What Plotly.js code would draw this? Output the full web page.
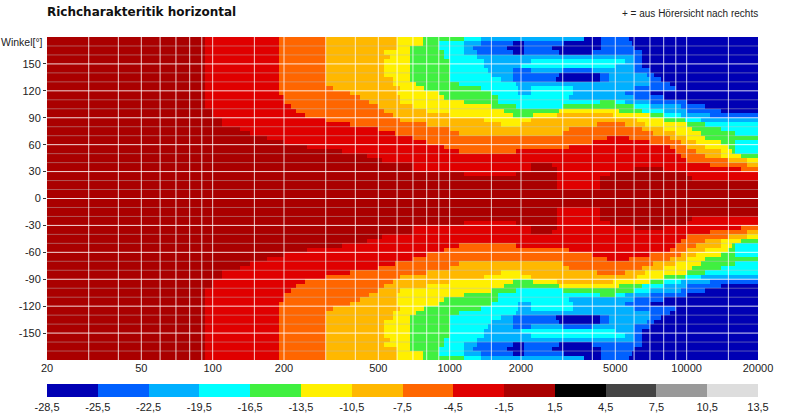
<!DOCTYPE html>
<html><head><meta charset="utf-8">
<script src="https://cdn.plot.ly/plotly-3.0.1.min.js"></script>
<style>html,body{margin:0;padding:0;background:#fff}</style>
</head><body><div id="chart" style="width:800px;height:418px"></div>
<script>
// level of each band letter in dB (band centre)
const bandLevels = {a:-27,b:-24,c:-21,d:-18,e:-15,f:-12,g:-9,h:-6,i:-3,j:0};
// one row per 5 degrees, from +180 down to -180: band letter + frequency (Hz) at which it ends
const rows = [
"j93 i190 h300 g600 f770 e1150 d1350 c3700 a4350 b5700 a20000",
"j93 i190 h300 g600 f770 e900 d1150 c1350 b1850 a2050 b3050 a4350 b5900 a20000",
"j93 i190 h300 g600 f680 e900 d1150 c1250 b1750 a2050 b2700 a4350 b6000 a20000",
"j93 i190 h300 g530 f680 e950 d1150 c1300 b1850 a2050 b2900 a4000 b6500 a20000",
"j93 i190 h300 g560 f680 e950 d1300 c6000 b6500 a20000",
"j93 i190 h300 g530 f680 e1000 d1400 c2200 d5500 c6000 b6500 a20000",
"j93 i190 h300 g530 f680 e1000 d1400 c2000 d5000 c6000 b6500 a20000",
"j93 i190 h300 g530 f680 e1000 d1450 c1850 b2200 c3000 b4000 c6000 b7000 a20000",
"j93 i190 h300 g530 f680 e1000 d1500 c1850 b2900 a4300 b4700 c6800 b7300 a20000",
"j93 i190 h300 g575 f680 e1000 d1650 c1850 b2800 a4300 b4700 c7000 b7800 a20000",
"j93 i190 h300 g575 f720 e1100 d1900 c7000 b8500 a20000",
"j93 i190 h322 g620 f780 e1350 d1950 c2200 d3300 c6000 b9000 a20000",
"j93 i190 h380 g600 f900 e1500 d1950 c2200 d3300 c5500 b7000 a20000",
"j93 i200 h420 g620 f950 e1600 d3200 c6000 b8000 a20000",
"j93 i200 h455 g620 f1150 e1600 d4300 e5000 d5500 c7000 b10000 a20000",
"j93 i214 h500 g700 f1500 e1900 d3000 e6000 d7000 c9500 b12000 a20000",
"j100 i225 h530 g800 f1700 e2900 f5200 e6500 d8000 c10000 b14000 a20000",
"j100 i245 h575 g1000 f1850 e2250 f2850 g4900 f7000 e8000 d9500 c12500 b20000",
"j110 i300 h620 g1400 f2200 g6200 f8000 e9800 d11500 c20000",
"j110 i380 h800 g1650 f2000 g4200 h5500 g6700 f10000 e12000 d20000",
"j130 i500 h1000 g3200 h6500 g8000 f10500 e14000 d20000",
"j144 i590 h1100 g3000 h7200 g9000 f11500 e16000 d20000",
"j170 i700 h4600 i5700 h8500 g10000 f12000 e20000",
"j200 i800 h4000 i7000 h9500 g11000 f14000 e16000 d20000",
"j250 i950 h3200 i8500 h10000 g12000 f15000 e16000 d20000",
"j350 i1100 h1900 i9000 h11000 g14000 f15500 e16000 d20000",
"j450 i9500 h12000 g14000 f17000 e20000",
"j520 i10000 h15000 g18000 f20000",
"j700 i2200 j2700 i12500 h18000 g20000",
"j700 i2200 j2850 i6000 j8000 i17000 h20000",
"j1150 i1900 j2850 i4750 j10000 i20000",
"j2850 i4300 j10500 i20000",
"j2850 i4300 j20000",
"j2850 i4300 j20000",
"j20000",
"j20000",
"j20000",
"j20000",
"j2850 i4300 j20000",
"j2850 i4300 j20000",
"j2850 i4300 j10500 i20000",
"j1150 i1900 j2850 i4750 j10000 i20000",
"j700 i2200 j2850 i6000 j8000 i17000 h20000",
"j700 i2200 j2700 i12500 h18000 g20000",
"j520 i10000 h15000 g18000 f20000",
"j450 i9500 h12000 g14000 f17000 e20000",
"j350 i1100 h1900 i9000 h11000 g14000 f15500 e16000 d20000",
"j250 i950 h3200 i8500 h10000 g12000 f15000 e16000 d20000",
"j200 i800 h4000 i7000 h9500 g11000 f14000 e16000 d20000",
"j170 i700 h4600 i5700 h8500 g10000 f12000 e20000",
"j144 i590 h1100 g3000 h7200 g9000 f11500 e16000 d20000",
"j130 i500 h1000 g3200 h6500 g8000 f10500 e14000 d20000",
"j110 i380 h800 g1650 f2000 g4200 h5500 g6700 f10000 e12000 d20000",
"j110 i300 h620 g1400 f2200 g6200 f8000 e9800 d11500 c20000",
"j100 i245 h575 g1000 f1850 e2250 f2850 g4900 f7000 e8000 d9500 c12500 b20000",
"j100 i225 h530 g800 f1700 e2900 f5200 e6500 d8000 c10000 b14000 a20000",
"j93 i214 h500 g620 f1500 e1900 d3000 e6000 d7000 c9500 b12000 a20000",
"j93 i200 h455 g600 f1150 e1600 d4300 e5000 d5500 c7000 b10000 a20000",
"j93 i200 h420 g600 f950 e1600 d3200 c6000 b8000 a20000",
"j93 i190 h380 g600 f900 e1500 d1950 c2200 d3300 c5500 b7000 a20000",
"j93 i190 h322 g620 f780 e1350 d1950 c2200 d3300 c6000 b9000 a20000",
"j93 i190 h300 g575 f720 e1100 d1900 c7000 b8500 a20000",
"j93 i190 h300 g575 f680 e1000 d1650 c1850 b2800 a4300 b4700 c7000 b7800 a20000",
"j93 i190 h300 g530 f680 e1000 d1500 c1850 b2900 a4300 b4700 c6800 b7300 a20000",
"j93 i190 h300 g530 f680 e1000 d1450 c1850 b2200 c3000 b4000 c6000 b7000 a20000",
"j93 i190 h300 g530 f680 e1000 d1400 c2000 d5000 c6000 b6500 a20000",
"j93 i190 h300 g530 f680 e1000 d1400 c2200 d5500 c6000 b6500 a20000",
"j93 i190 h300 g560 f680 e950 d1300 c6000 b6500 a20000",
"j93 i190 h300 g530 f680 e950 d1150 c1300 b1850 a2050 b2900 a4000 b6500 a20000",
"j93 i190 h300 g600 f680 e900 d1150 c1250 b1750 a2050 b2700 a4350 b6000 a20000",
"j93 i190 h300 g600 f770 e900 d1150 c1350 b1850 a2050 b3050 a4350 b5900 a20000",
"j93 i190 h300 g600 f770 e1150 d1350 c3700 a4350 b5700 a20000"
];
const angleEdges = [180,175,170,165,160,155,150,145,140,135,130,125,120,115,110,105,100,95,90,85,80,75,70,65,60,55,50,45,40,35,30,25,20,15,10,5,0,-5,-10,-15,-20,-25,-30,-35,-40,-45,-50,-55,-60,-65,-70,-75,-80,-85,-90,-95,-100,-105,-110,-115,-120,-125,-130,-135,-140,-145,-150,-155,-160,-165,-170,-175,-180];
const bandColors = ["#0000b4","#0060ff","#00b0ff","#00ffff","#40f040","#fff000","#ffb800","#ff6600","#e00000","#aa0000","#000000","#444444","#999999","#dddddd"];
const colorTicks = [-28.5,-25.5,-22.5,-19.5,-16.5,-13.5,-10.5,-7.5,-4.5,-1.5,1.5,4.5,7.5,10.5,13.5];
const colorTickText = ["-28,5","-25,5","-22,5","-19,5","-16,5","-13,5","-10,5","-7,5","-4,5","-1,5","1,5","4,5","7,5","10,5","13,5"];
const freqTicks = [20,50,100,200,500,1000,2000,5000,10000,20000];
const freqGrid = [30,40,50,60,70,80,90,100,150,200,300,400,500,600,700,800,900,1000,1500,2000,3000,4000,5000,6000,7000,8000,9000,10000,15000];
const angleTicks = [150,120,90,60,30,0,-30,-60,-90,-120,-150];
const angleMinor = [170,160,140,130,110,100,80,70,50,40,20,10,-10,-20,-40,-50,-70,-80,-100,-110,-130,-140,-160,-170];

const parsed = rows.map(r => r.split(" ").map(t => [t[0], +t.slice(1)]));
const edgeSet = new Set([20]);
parsed.forEach(r => r.forEach(t => edgeSet.add(t[1])));
const xEdges = [...edgeSet].sort((a,b)=>a-b);
const z = parsed.map(r => xEdges.slice(1).map(end => {
  for (const t of r) if (end <= t[1]) return bandLevels[t[0]];
  return null;
}));

const stops = [];
bandColors.forEach((c,i)=>{stops.push([i/14,c]);stops.push([(i+1)/14,c]);});

const xLo = 20, xHi = 20000;
function hLines(vals,color){
  const x=[],y=[];
  vals.forEach(v=>{x.push(xLo,xHi,null);y.push(v,v,null);});
  return {type:"scatter",mode:"lines",x,y,line:{color,width:1},hoverinfo:"skip",showlegend:false};
}
function vLines(vals,color){
  const x=[],y=[];
  vals.forEach(v=>{x.push(v,v,null);y.push(-180,180,null);});
  return {type:"scatter",mode:"lines",x,y,line:{color,width:1},hoverinfo:"skip",showlegend:false};
}
const font = "Liberation Sans, Arial, sans-serif";
const data = [
 {type:"heatmap",x:xEdges,y:angleEdges,z,zmin:-28.5,zmax:13.5,colorscale:stops,zsmooth:false,hoverinfo:"skip",
  colorbar:{orientation:"h",x:0,xanchor:"left",len:1,lenmode:"fraction",y:-0.1518,yanchor:"bottom",thickness:13,thicknessmode:"pixels",
   xpad:0,ypad:0,outlinewidth:0,borderwidth:0,ticks:"",tickmode:"array",tickvals:colorTicks,ticktext:colorTickText,tickfont:{family:font,size:11,color:"#222"}}},
 hLines(angleMinor,"rgba(190,190,190,0.45)"),
 hLines(angleTicks,"rgba(255,255,255,0.85)"),
 vLines(freqGrid,"rgba(255,255,255,0.8)")
];
const layout = {
 width:800,height:418,autosize:false,paper_bgcolor:"#fff",plot_bgcolor:"#fff",
 margin:{l:46.7,r:42,t:37,b:58,pad:0,autoexpand:false},
 showlegend:false,font:{family:font,size:11,color:"#222"},
 title:{text:"<b>Richcharakteritik horizontal</b>",x:0,xref:"paper",xanchor:"left",y:0.972,yref:"container",yanchor:"middle",font:{family:"DejaVu Sans, sans-serif",size:12,color:"#111"}},
 xaxis:{type:"log",range:[Math.log10(20),Math.log10(20000)],tickmode:"array",tickvals:freqTicks,ticktext:freqTicks.map(String),ticks:"",showgrid:false,zeroline:false,showline:false,tickfont:{family:font,size:11,color:"#222"}},
 yaxis:{range:[-180,180],tickmode:"array",tickvals:angleTicks,ticktext:angleTicks.map(String),ticks:"outside",ticklen:3,tickcolor:"#333",showgrid:false,zeroline:false,showline:false,tickfont:{family:font,size:11,color:"#222"}},
 annotations:[
  {text:"Winkel[°]",xref:"paper",yref:"paper",x:0,y:0.985,xanchor:"right",yanchor:"middle",xshift:-2,showarrow:false,font:{family:font,size:10.5,color:"#222"}},
  {text:"+ = aus Hörersicht nach rechts",xref:"paper",yref:"paper",x:1,y:1.073,xanchor:"right",yanchor:"middle",xshift:2,showarrow:false,font:{family:font,size:10,color:"#222"}}
 ]
};
Plotly.newPlot("chart",data,layout,{displayModeBar:false,staticPlot:true});
</script></body></html>
